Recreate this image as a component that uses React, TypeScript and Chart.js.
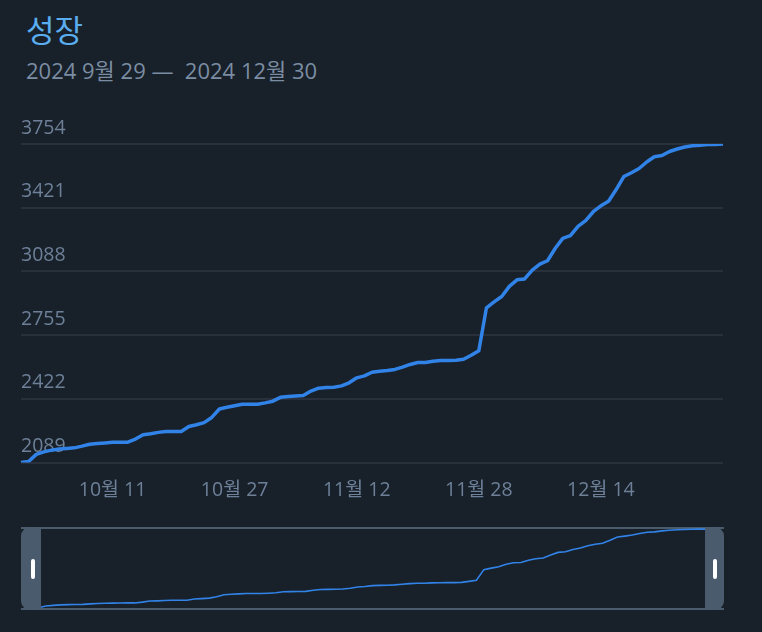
import React, { useEffect, useRef } from "react";
import { Chart, registerables } from "chart.js";

Chart.register(...registerables);

const TITLE = "성장";
const SUBTITLE = "2024 9월 29 —  2024 12월 30";

const dates: string[] = [
  "9월 29", "9월 30",
  "10월 1", "10월 2", "10월 3", "10월 4", "10월 5", "10월 6", "10월 7", "10월 8", "10월 9", "10월 10",
  "10월 11", "10월 12", "10월 13", "10월 14", "10월 15", "10월 16", "10월 17", "10월 18", "10월 19", "10월 20",
  "10월 21", "10월 22", "10월 23", "10월 24", "10월 25", "10월 26", "10월 27", "10월 28", "10월 29", "10월 30", "10월 31",
  "11월 1", "11월 2", "11월 3", "11월 4", "11월 5", "11월 6", "11월 7", "11월 8", "11월 9", "11월 10",
  "11월 11", "11월 12", "11월 13", "11월 14", "11월 15", "11월 16", "11월 17", "11월 18", "11월 19", "11월 20",
  "11월 21", "11월 22", "11월 23", "11월 24", "11월 25", "11월 26", "11월 27", "11월 28", "11월 29", "11월 30",
  "12월 1", "12월 2", "12월 3", "12월 4", "12월 5", "12월 6", "12월 7", "12월 8", "12월 9", "12월 10",
  "12월 11", "12월 12", "12월 13", "12월 14", "12월 15", "12월 16", "12월 17", "12월 18", "12월 19", "12월 20",
  "12월 21", "12월 22", "12월 23", "12월 24", "12월 25", "12월 26", "12월 27", "12월 28", "12월 29", "12월 30",
];

const growth: number[] = [
  2089, 2095, 2132, 2145, 2154, 2160, 2163, 2166, 2175, 2185,
  2189, 2192, 2195, 2196, 2196, 2212, 2235, 2240, 2247, 2252,
  2252, 2252, 2278, 2287, 2298, 2325, 2369, 2378, 2386, 2394,
  2394, 2394, 2401, 2410, 2430, 2434, 2437, 2440, 2463, 2478,
  2481, 2483, 2490, 2506, 2532, 2542, 2561, 2566, 2570, 2576,
  2588, 2602, 2612, 2612, 2619, 2622, 2623, 2624, 2629, 2650,
  2674, 2898, 2929, 2957, 3010, 3044, 3049, 3095, 3126, 3144,
  3208, 3261, 3275, 3324, 3354, 3400, 3431, 3455, 3516, 3584,
  3604, 3626, 3660, 3687, 3694, 3715, 3728, 3738, 3745, 3748,
  3751, 3752, 3754,
];

const xTickLabels: string[] = ["10월 11", "10월 27", "11월 12", "11월 28", "12월 14"];
const yTicks: number[] = [2089, 2422, 2755, 3088, 3421, 3754];

const BG = "#18202a";
const LINE = "#3183e8";
const GRID = "#27303b";
const AXIS_TEXT = "#6d8098";
const TITLE_COLOR = "#5aaef0";
const SUB_COLOR = "#7b8da2";
const NAV = "#4b5b6e";
const FONT = "'Open Sans', 'Noto Sans CJK KR', sans-serif";

export default function App() {
  const mainRef = useRef<HTMLCanvasElement | null>(null);
  const navRef = useRef<HTMLCanvasElement | null>(null);

  useEffect(() => {
    document.body.style.margin = "0";
    document.body.style.background = BG;
    const main = new Chart(mainRef.current as HTMLCanvasElement, {
      type: "line",
      data: {
        labels: dates,
        datasets: [
          {
            data: growth,
            borderColor: LINE,
            borderWidth: 3.5,
            pointRadius: 0,
            tension: 0,
            fill: false,
            borderJoinStyle: "round",
          },
        ],
      },
      options: {
        animation: false,
        responsive: false,
        layout: { padding: { left: 21, right: 39, top: 44, bottom: 10 } },
        plugins: { legend: { display: false }, tooltip: { enabled: false } },
        scales: {
          x: {
            type: "category",
            offset: false,
            grid: { display: false },
            border: { display: false },
            ticks: {
              autoSkip: false,
              maxRotation: 0,
              minRotation: 0,
              padding: 8,
              color: AXIS_TEXT,
              font: { family: FONT, size: 19.5 },
              callback: (_v: any, idx: number) => (xTickLabels.includes(dates[idx]) ? dates[idx] : ""),
            },
          },
          y: {
            min: yTicks[0],
            max: yTicks[yTicks.length - 1],
            afterBuildTicks: (axis: any) => {
              axis.ticks = yTicks.map((v) => ({ value: v }));
            },
            grid: { color: GRID, lineWidth: 2, drawTicks: false },
            border: { display: false },
            ticks: {
              mirror: true,
              padding: 0,
              labelOffset: -16,
              color: AXIS_TEXT,
              font: { family: FONT, size: 19.5 },
              callback: (v: any) => String(v),
            },
          },
        },
      },
    });

    const nav = new Chart(navRef.current as HTMLCanvasElement, {
      type: "line",
      data: {
        labels: dates,
        datasets: [
          {
            data: growth,
            borderColor: LINE,
            borderWidth: 1.6,
            pointRadius: 0,
            tension: 0,
            fill: false,
            clip: 4,
          },
        ],
      },
      options: {
        animation: false,
        responsive: false,
        layout: { padding: { left: 0, right: 0, top: 2, bottom: 2 } },
        plugins: { legend: { display: false }, tooltip: { enabled: false } },
        scales: {
          x: { type: "category", offset: false, display: false },
          y: { min: yTicks[0], max: yTicks[yTicks.length - 1], display: false },
        },
      },
    });

    return () => {
      main.destroy();
      nav.destroy();
    };
  }, []);

  return (
    <div style={{ position: "relative", width: 762, height: 632, background: BG, overflow: "hidden" }}>
      <div
        style={{
          position: "absolute",
          left: 26,
          top: 15,
          fontSize: 31,
          lineHeight: "31px",
          color: TITLE_COLOR,
          fontFamily: FONT,
          whiteSpace: "pre",
        }}
      >
        {TITLE}
      </div>
      <div
        style={{
          position: "absolute",
          left: 26,
          top: 59,
          fontSize: 22,
          lineHeight: "22px",
          color: SUB_COLOR,
          fontFamily: FONT,
          whiteSpace: "pre",
        }}
      >
        {SUBTITLE}
      </div>
      <canvas
        ref={mainRef}
        width={762}
        height={420}
        style={{ position: "absolute", left: 0, top: 100, width: 762, height: 420 }}
      />
      <div
        style={{
          position: "absolute",
          left: 21,
          top: 527,
          width: 703,
          height: 83,
          boxSizing: "border-box",
          borderTop: `2px solid ${NAV}`,
          borderBottom: `2px solid ${NAV}`,
        }}
      />
      <canvas
        ref={navRef}
        width={683}
        height={83}
        style={{ position: "absolute", left: 31, top: 527, width: 683, height: 83 }}
      />
      <div
        style={{
          position: "absolute",
          left: 21,
          top: 527,
          width: 20,
          height: 83,
          background: NAV,
          borderRadius: "9px 0 0 9px",
        }}
      />
      <div
        style={{
          position: "absolute",
          left: 705,
          top: 527,
          width: 19,
          height: 83,
          background: NAV,
          borderRadius: "0 9px 9px 0",
        }}
      />
      <div
        style={{ position: "absolute", left: 31, top: 559, width: 3.5, height: 20, background: "#ffffff", borderRadius: 2 }}
      />
      <div
        style={{ position: "absolute", left: 713, top: 559, width: 3.5, height: 20, background: "#ffffff", borderRadius: 2 }}
      />
    </div>
  );
}
